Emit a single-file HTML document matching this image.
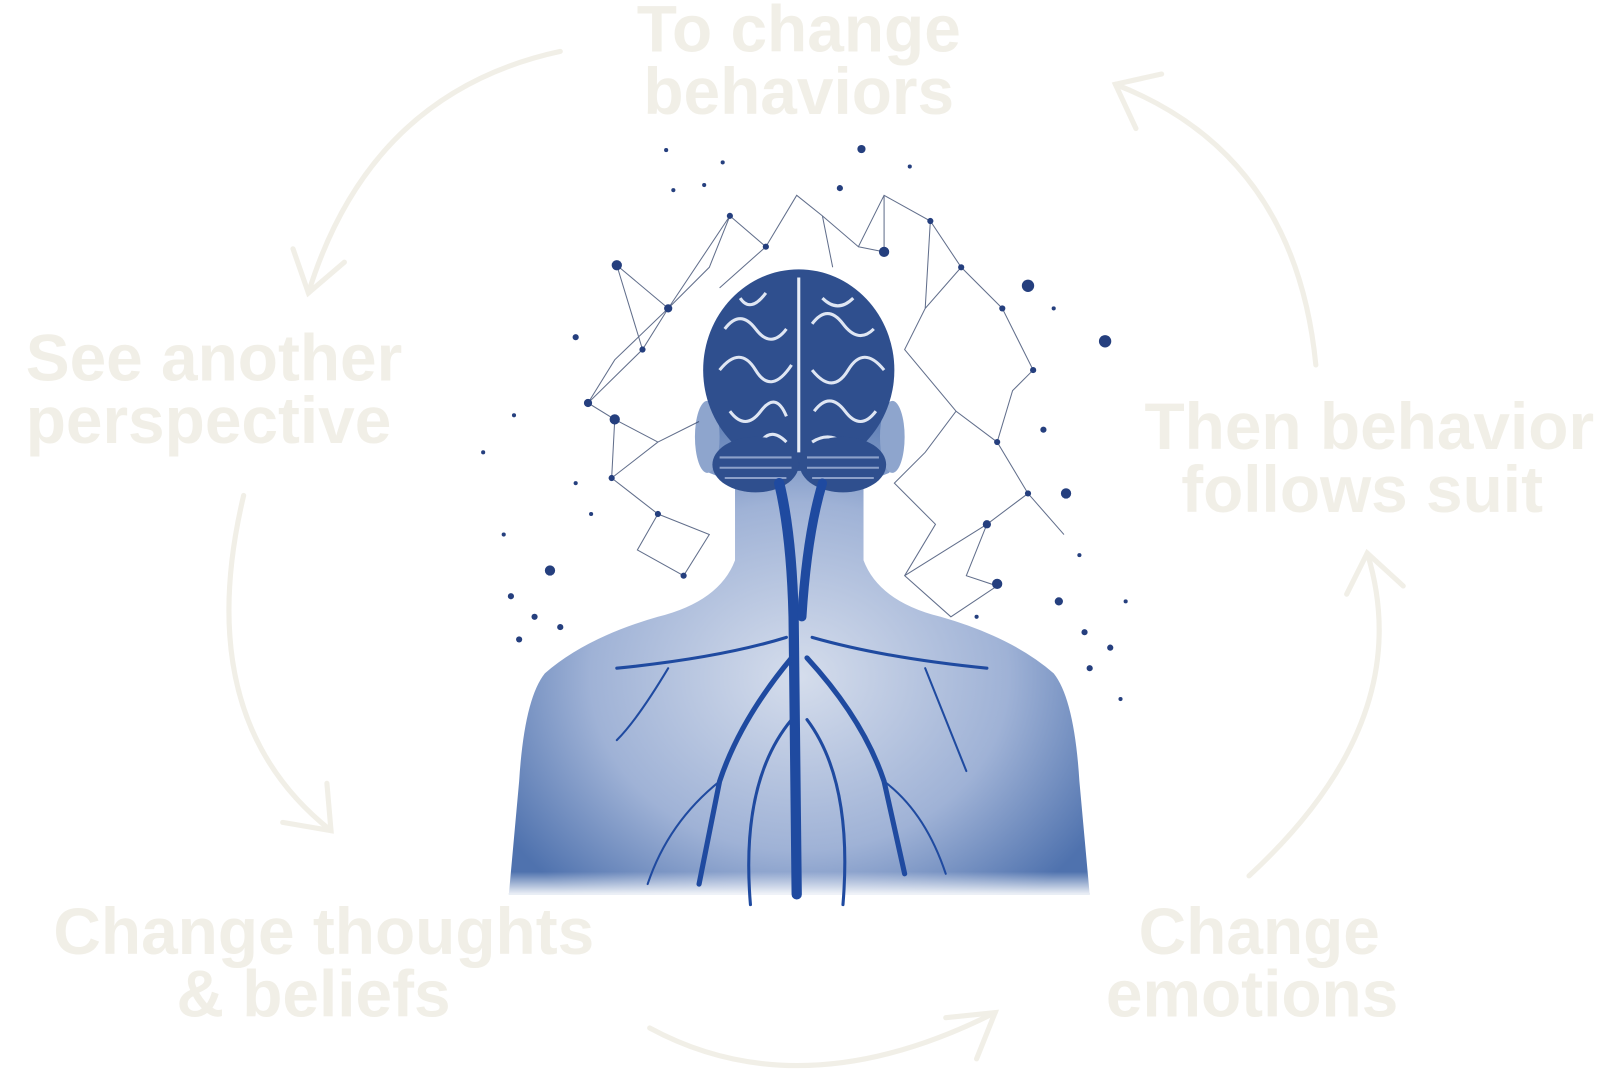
<!DOCTYPE html>
<html><head><meta charset="utf-8"><style>
html,body{margin:0;padding:0;background:#fff;width:1605px;height:1080px;overflow:hidden}
svg{position:absolute;left:0;top:0}
text{font-family:"Liberation Sans",sans-serif;font-weight:bold;font-size:64px;fill:#f1efe7}
</style></head><body>
<svg width="1605" height="1080" viewBox="0 0 1605 1080">
<defs>
<radialGradient id="bg" cx="0.5" cy="0.55" r="0.6">
<stop offset="0" stop-color="#d5ddec"/><stop offset="0.6" stop-color="#9fb2d6"/><stop offset="1" stop-color="#4f72ae"/>
</radialGradient>
<linearGradient id="fade" x1="0" y1="0" x2="0" y2="1">
<stop offset="0.8" stop-color="#fff" stop-opacity="0"/><stop offset="1" stop-color="#fff" stop-opacity="0.9"/>
</linearGradient>
</defs>
<g transform="scale(1.028)">
<!-- labels -->
<text x="777" y="50" text-anchor="middle">To change</text>
<text x="777" y="111" text-anchor="middle">behaviors</text>
<text x="25" y="370">See another</text>
<text x="25" y="431">perspective</text>
<text x="1332" y="437" text-anchor="middle">Then behavior</text>
<text x="1325" y="498" text-anchor="middle">follows suit</text>
<text x="315" y="928" text-anchor="middle">Change thoughts</text>
<text x="305" y="989" text-anchor="middle">&amp; beliefs</text>
<text x="1225" y="928" text-anchor="middle">Change</text>
<text x="1218" y="989" text-anchor="middle">emotions</text>
<!-- arrows -->
<g fill="none" stroke="#f1efe7" stroke-width="5" stroke-linecap="round">
<path d="M545 50 Q360 90 300 285"/><path d="M285 242 L300 285 L335 255"/>
<path d="M1280 355 Q1260 150 1085 82"/><path d="M1130 72 L1085 82 L1105 125"/>
<path d="M237 482 Q185 700 322 808"/><path d="M275 800 L322 808 L318 762"/>
<path d="M1215 852 Q1380 700 1330 538"/><path d="M1310 578 L1330 538 L1365 570"/>
<path d="M632 1000 Q780 1080 968 985"/><path d="M920 990 L968 985 L950 1030"/>
</g>
<!-- body -->
<path d="M495 870 L505 760 Q510 680 530 655 Q570 620 640 600 Q700 585 715 545 L715 470 L690 460 Q676 420 690 400 L850 400 Q880 420 865 460 L840 470 L840 545 Q855 585 915 600 Q985 620 1025 655 Q1045 680 1050 760 L1060 870 Z" fill="url(#bg)"/>
<path d="M495 870 L1060 870 L1060 760 L495 760Z" fill="url(#fade)"/>
<ellipse cx="688" cy="425" rx="12" ry="35" fill="#8ea5cd"/>
<ellipse cx="868" cy="425" rx="12" ry="35" fill="#8ea5cd"/>
<!-- brain -->
<ellipse cx="777" cy="360" rx="93" ry="98" fill="#2f4f8e"/>
<line x1="777" y1="270" x2="777" y2="440" stroke="#e9eef7" stroke-width="3"/>
<g fill="none" stroke="#dfe6f3" stroke-width="3">
<path d="M705 320 q15 -20 30 0 t30 0"/><path d="M700 360 q20 -25 35 0 t35 -5"/><path d="M710 400 q15 20 30 0 t25 5"/>
<path d="M790 315 q15 -20 30 0 t30 5"/><path d="M790 360 q20 25 35 0 t35 0"/><path d="M792 400 q15 -20 30 0 t30 0"/>
<path d="M720 290 q10 15 25 -5"/><path d="M800 290 q15 15 30 0"/><path d="M740 430 q10 -15 25 0"/><path d="M790 430 q15 -10 30 0"/>
</g>
<ellipse cx="735" cy="452" rx="42" ry="27" fill="#2f4f8e"/>
<ellipse cx="820" cy="452" rx="42" ry="27" fill="#2f4f8e"/>
<g stroke="#8ca0c9" stroke-width="2"><line x1="700" y1="445" x2="770" y2="445"/><line x1="700" y1="455" x2="770" y2="455"/><line x1="705" y1="465" x2="765" y2="465"/><line x1="785" y1="445" x2="855" y2="445"/><line x1="785" y1="455" x2="855" y2="455"/><line x1="790" y1="465" x2="850" y2="465"/></g>
<!-- spine & nerves -->
<g fill="none" stroke="#1f4aa0" stroke-linecap="round">
<path d="M758 470 Q770 520 772 600 L775 870" stroke-width="10"/>
<path d="M800 470 Q785 520 780 600" stroke-width="9"/>
<path d="M770 640 Q720 700 700 760 L680 860" stroke-width="5"/>
<path d="M785 640 Q840 700 860 760 L880 850" stroke-width="5"/>
<path d="M765 620 Q700 640 600 650" stroke-width="3"/>
<path d="M790 620 Q860 640 960 650" stroke-width="3"/>
<path d="M770 700 Q720 760 730 880" stroke-width="3"/>
<path d="M785 700 Q830 760 820 880" stroke-width="3"/>
<path d="M700 760 Q650 800 630 860" stroke-width="2"/>
<path d="M860 760 Q900 790 920 850" stroke-width="2"/>
<path d="M650 650 Q620 700 600 720" stroke-width="2"/>
<path d="M900 650 Q920 700 940 750" stroke-width="2"/>
</g>
<!-- network -->
<g stroke="#3a4a6e" stroke-width="1" fill="none" opacity="0.8">
<path d="M600 258 L650 300 L625 340 L572 392 L598 408 L595 465 L640 500 L620 535 L665 560 L690 520 L640 500 M650 300 L710 210 L745 240 L775 190 L800 210 L835 240 L860 190 L905 215 L935 260 L975 300 L1005 360 L985 380 L970 430 L1000 480 L960 510 L940 560 L970 570 L925 600 L880 560 L910 510 L870 470 L900 440 L930 400 L970 430 M650 300 L690 260 L710 210 M600 258 L625 340 M975 300 L935 260 L900 300 L880 340 L930 400 M905 215 L900 300 M860 190 L860 245 L835 240 M572 392 L598 350 L650 300 M598 408 L640 430 L595 465 M640 430 L680 410 M880 560 L960 510 M1000 480 L1035 520 M745 240 L700 280 M800 210 L810 260"/>
</g>
<g fill="#253f7e">
<circle cx="600" cy="258" r="5"/><circle cx="650" cy="300" r="4"/><circle cx="625" cy="340" r="3"/><circle cx="572" cy="392" r="4"/><circle cx="598" cy="408" r="5"/><circle cx="595" cy="465" r="3"/><circle cx="640" cy="500" r="3"/><circle cx="665" cy="560" r="3"/><circle cx="710" cy="210" r="3"/><circle cx="745" cy="240" r="3"/><circle cx="860" cy="245" r="5"/><circle cx="905" cy="215" r="3"/><circle cx="935" cy="260" r="3"/><circle cx="975" cy="300" r="3"/><circle cx="1005" cy="360" r="3"/><circle cx="1000" cy="278" r="6"/><circle cx="1075" cy="332" r="6"/><circle cx="970" cy="430" r="3"/><circle cx="1000" cy="480" r="3"/><circle cx="960" cy="510" r="4"/><circle cx="1037" cy="480" r="5"/><circle cx="970" cy="568" r="5"/><circle cx="1030" cy="585" r="4"/><circle cx="838" cy="145" r="4"/><circle cx="817" cy="183" r="3"/><circle cx="535" cy="555" r="5"/><circle cx="560" cy="328" r="3"/><circle cx="497" cy="580" r="3"/><circle cx="520" cy="600" r="3"/><circle cx="545" cy="610" r="3"/><circle cx="505" cy="622" r="3"/><circle cx="490" cy="520" r="2"/><circle cx="470" cy="440" r="2"/><circle cx="500" cy="404" r="2"/><circle cx="685" cy="180" r="2"/><circle cx="655" cy="185" r="2"/><circle cx="703" cy="158" r="2"/><circle cx="648" cy="146" r="2"/><circle cx="885" cy="162" r="2"/><circle cx="1055" cy="615" r="3"/><circle cx="1080" cy="630" r="3"/><circle cx="1060" cy="650" r="3"/><circle cx="1095" cy="585" r="2"/><circle cx="1050" cy="540" r="2"/><circle cx="1090" cy="680" r="2"/><circle cx="1015" cy="418" r="3"/><circle cx="575" cy="500" r="2"/><circle cx="560" cy="470" r="2"/><circle cx="950" cy="600" r="2"/><circle cx="1025" cy="300" r="2"/>
</g>
</g>
</svg>
</body></html>
